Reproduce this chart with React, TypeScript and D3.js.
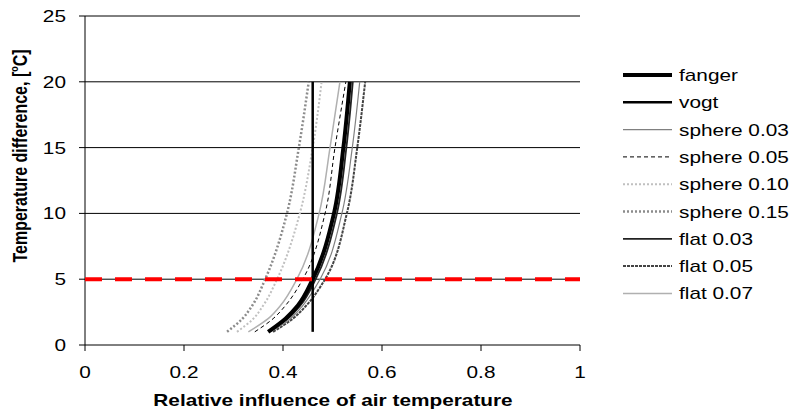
import * as d3 from 'd3';
import type { ReactNode } from 'react';

const yLevels = [1, 2, 3, 5, 10, 15, 20];

// relative influence at each yLevels value
const fanger = [0.37, 0.405, 0.43, 0.46, 0.503, 0.522, 0.535];
const vogtX = [0.46, 0.46];
const vogtY = [1, 20];
const sphere003 = [0.375, 0.415, 0.44, 0.475, 0.519, 0.54, 0.555];
const sphere005 = [0.343, 0.38, 0.405, 0.44, 0.485, 0.505, 0.527];
const sphere010 = [0.307, 0.34, 0.36, 0.388, 0.434, 0.46, 0.478];
const sphere015 = [0.287, 0.318, 0.338, 0.364, 0.408, 0.432, 0.452];
const flat003 = [0.372, 0.41, 0.435, 0.466, 0.509, 0.528, 0.541];
const flat005 = [0.38, 0.42, 0.447, 0.485, 0.529, 0.55, 0.566];
const flat007 = [0.33, 0.37, 0.395, 0.428, 0.473, 0.495, 0.515];

const limitLine = 5;
const xTicks = [0, 0.2, 0.4, 0.6, 0.8, 1];
const yTicks = [0, 5, 10, 15, 20, 25];

type Style = { color: string; width: number; dash?: string };

const series: { name: string; xs: number[]; ys: number[]; style: Style }[] = [
  { name: 'fanger', xs: fanger, ys: yLevels, style: { color: '#000', width: 4 } },
  { name: 'vogt', xs: vogtX, ys: vogtY, style: { color: '#000', width: 2.5 } },
  { name: 'sphere 0.03', xs: sphere003, ys: yLevels, style: { color: '#808080', width: 1.2 } },
  { name: 'sphere 0.05', xs: sphere005, ys: yLevels, style: { color: '#000', width: 1, dash: '4,3' } },
  { name: 'sphere 0.10', xs: sphere010, ys: yLevels, style: { color: '#c0c0c0', width: 2, dash: '2,2' } },
  { name: 'sphere 0.15', xs: sphere015, ys: yLevels, style: { color: '#8c8c8c', width: 2.5, dash: '2,2' } },
  { name: 'flat 0.03', xs: flat003, ys: yLevels, style: { color: '#222', width: 1.8 } },
  { name: 'flat 0.05', xs: flat005, ys: yLevels, style: { color: '#444', width: 2, dash: '3,1' } },
  { name: 'flat 0.07', xs: flat007, ys: yLevels, style: { color: '#b0b0b0', width: 1.5 } },
];

const W = 797;
const H = 412;
const left = 85;
const right = 580;
const top = 16;
const bottom = 345;
const font = '"Liberation Sans", Arial, sans-serif';
const stretch = 1.3; // the original picture is widened horizontally

// text widened like the source image
function T(props: {
  x: number;
  y: number;
  anchor?: string;
  size?: number;
  bold?: boolean;
  children: ReactNode;
}) {
  return (
    <text
      transform={`translate(${props.x},${props.y}) scale(${stretch},1)`}
      textAnchor={props.anchor || 'start'}
      fontSize={props.size || 16}
      fontWeight={props.bold ? 'bold' : 'normal'}
    >
      {props.children}
    </text>
  );
}

export default function App() {
  const x = d3.scaleLinear().domain([0, 1]).range([left, right]);
  const y = d3.scaleLinear().domain([0, 25]).range([bottom, top]);

  const line = d3
    .line<[number, number]>()
    .x((d) => x(d[0]))
    .y((d) => y(d[1]))
    .curve(d3.curveMonotoneY);

  const drawOrder = [...series].reverse();

  return (
    <svg
      width={W}
      height={H}
      style={{ position: 'absolute', left: 0, top: 0, background: '#fff' }}
      fontFamily={font}
    >
      {/* gridlines */}
      {yTicks.slice(1).map((t) => (
        <line key={t} x1={left} x2={right} y1={y(t)} y2={y(t)} stroke="#000" strokeWidth={1} />
      ))}

      {/* axes */}
      <line x1={left} x2={left} y1={top} y2={bottom} stroke="#000" />
      <line x1={left} x2={right} y1={bottom} y2={bottom} stroke="#000" />
      {yTicks.map((t) => (
        <g key={t}>
          <line x1={left - 6} x2={left} y1={y(t)} y2={y(t)} stroke="#000" />
          <T x={left - 19} y={y(t) + 6} anchor="end">
            {t}
          </T>
        </g>
      ))}
      {xTicks.map((t) => (
        <g key={t}>
          <line x1={x(t)} x2={x(t)} y1={bottom} y2={bottom + 6} stroke="#000" />
          <T x={x(t)} y={378} anchor="middle">
            {t}
          </T>
        </g>
      ))}

      {/* curves */}
      {drawOrder.map((s) => (
        <path
          key={s.name}
          d={line(s.xs.map((v, i) => [v, s.ys[i]]) as [number, number][]) || ''}
          fill="none"
          stroke={s.style.color}
          strokeWidth={s.style.width}
          strokeDasharray={s.style.dash}
        />
      ))}

      {/* 5 degree limit */}
      <line
        x1={x(0)}
        x2={x(1)}
        y1={y(limitLine)}
        y2={y(limitLine)}
        stroke="#ff0000"
        strokeWidth={4}
        strokeDasharray="17,13"
      />

      {/* legend */}
      {series.map((s, i) => {
        const ly = 75 + i * 27.3;
        return (
          <g key={s.name}>
            <line
              x1={623}
              x2={672}
              y1={ly}
              y2={ly}
              stroke={s.style.color}
              strokeWidth={s.style.width}
              strokeDasharray={s.style.dash}
            />
            <T x={679} y={ly + 6}>
              {s.name}
            </T>
          </g>
        );
      })}

      {/* axis titles */}
      <T x={333} y={406} anchor="middle" bold>
        Relative influence of air temperature
      </T>
      <text
        transform={`translate(27,156) scale(${stretch},1) rotate(-90)`}
        textAnchor="middle"
        fontSize={16}
        fontWeight="bold"
      >
        Temperature difference, [
        <tspan fontSize={9} dy={-7}>
          o
        </tspan>
        <tspan dy={7}>C]</tspan>
      </text>
    </svg>
  );
}
